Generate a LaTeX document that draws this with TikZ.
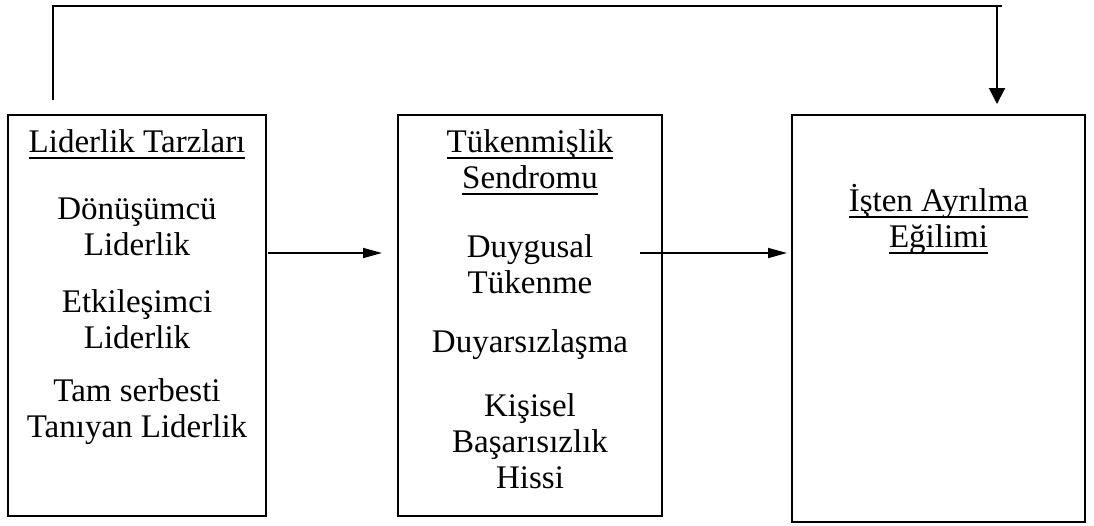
\documentclass[tikz,border=0pt]{standalone}
\usepackage{fontspec}
\setmainfont{Liberation Serif}
\usetikzlibrary{arrows.meta}
% underline with a thicker rule placed below the baseline
\newcommand\myul[1]{\setbox0\hbox{#1}\rlap{\rule[-6.5pt]{\wd0}{1.8pt}}\box0}
\begin{document}
\begin{tikzpicture}[x=1pt,y=-1pt,
  box/.style={draw,line width=2.8pt,minimum width=#1,inner sep=0pt},
  txt/.style={align=center,inner sep=0pt,font=\fontsize{33}{36}\selectfont},
  conn/.style={line width=1.6pt},
  harrow/.style={conn,-{Triangle[length=19pt,width=10pt]}},
  varrow/.style={conn,line width=2pt,-{Triangle[length=16pt,width=16pt]}}]
\useasboundingbox (0,0) rectangle (1094,525);

% three boxes
\node[box=258pt,minimum height=401pt] (b1) at (137,315.5) {};
\node[box=264pt,minimum height=401pt] (b2) at (530,315.5) {};
\node[box=293pt,minimum height=407pt] (b3) at (938.5,318.5) {};

% leadership styles
\node[txt] (t1) at (137,144) {\myul{Liderlik Tarzları}};
\node[txt] (t2) at (137,227) {Dönüşümcü\\Liderlik};
\node[txt] (t3) at (137,319) {Etkileşimci\\Liderlik};
\node[txt] (t4) at (137,412) {Tam serbesti\\Tanıyan Liderlik};

% burnout syndrome
\node[txt] (u1) at (530,162) {\myul{Tükenmişlik}\\\myul{Sendromu}};
\node[txt] (u2) at (530,264) {Duygusal\\Tükenme};
\node[txt] (u3) at (530,345) {Duyarsızlaşma};
\node[txt] (u4) at (530,441) {Kişisel\\Başarısızlık\\Hissi};

% turnover intention
\node[txt] (v1) at (938.5,219) {\myul{İşten Ayrılma}\\\myul{Eğilimi}};

% horizontal links
\coordinate (a1s) at (268,253);
\coordinate (a1e) at (382,253);
\coordinate (a2s) at (640,253);
\coordinate (a2e) at (787,253);
\draw[harrow] (a1s) -- (a1e);
\draw[harrow] (a2s) -- (a2e);

% top feedback link
\coordinate (p0) at (53,100);
\coordinate (p1) at (53,6);
\coordinate (p2) at (1002,6);
\coordinate (q0) at (997,7);
\coordinate (q1) at (997,104);
\draw[conn,line width=2pt] (p0) -- (p1) -- (p2);
\draw[varrow] (q0) -- (q1);
\end{tikzpicture}
\end{document}
